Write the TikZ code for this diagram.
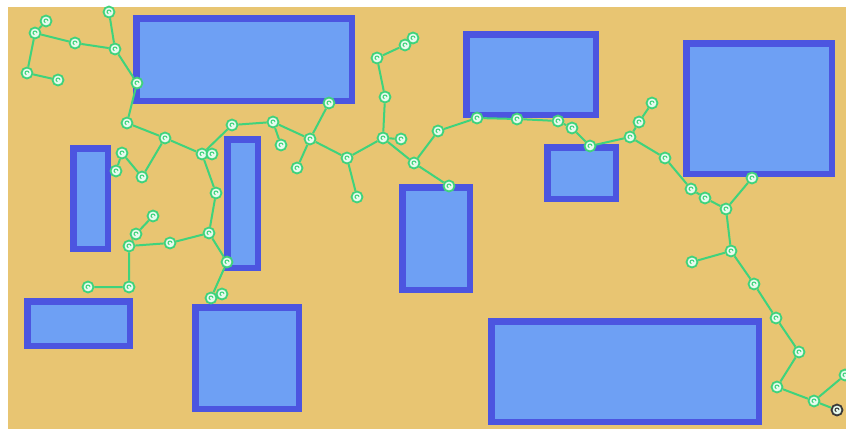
\documentclass[tikz,border=0pt]{standalone}
\usetikzlibrary{backgrounds}
\definecolor{tan}{HTML}{E8C572}
\definecolor{bordercol}{HTML}{4C55E0}
\definecolor{boxfill}{HTML}{6EA0F4}
\definecolor{lgreen}{HTML}{3FD37C}
\definecolor{nfill}{HTML}{E6FAEE}
\definecolor{endcol}{HTML}{3A3A3A}
\pgfdeclarelayer{back}
\pgfdeclarelayer{mid}
\pgfsetlayers{back,mid,main}
\tikzset{
  boxst/.style={draw=bordercol, line width=6.5pt, fill=boxfill},
  nd/.style={circle, draw=lgreen, line width=1.8pt, fill=nfill, minimum size=11pt, inner sep=0pt,
    path picture={\draw[lgreen, line width=1pt] ([shift={(2pt,0pt)}]path picture bounding box.center) arc[start angle=0, end angle=250, radius=2pt];}},
  endnd/.style={nd, draw=endcol, path picture={\draw[endcol, line width=1pt] ([shift={(2pt,0pt)}]path picture bounding box.center) arc[start angle=0, end angle=250, radius=2pt];}},
  edge/.style={draw=lgreen, line width=2pt}
}
\begin{document}
\begin{tikzpicture}[x=1pt,y=-1pt]
\useasboundingbox (0,0) rectangle (846,429);
\begin{pgfonlayer}{back}
\fill[white] (0,0) rectangle (846,429);
\fill[tan] (8,7) rectangle (846,429);
\draw[boxst] (136.25,18.25) rectangle (351.75,100.75);
\draw[boxst] (73.25,148.25) rectangle (107.75,248.75);
\draw[boxst] (227.25,139.25) rectangle (257.75,267.75);
\draw[boxst] (27.25,301.25) rectangle (129.75,345.75);
\draw[boxst] (195.25,307.25) rectangle (298.75,408.75);
\draw[boxst] (402.25,187.25) rectangle (469.75,289.75);
\draw[boxst] (466.25,34.25) rectangle (595.75,114.75);
\draw[boxst] (547.25,147.25) rectangle (615.75,198.75);
\draw[boxst] (686.25,43.25) rectangle (831.75,173.75);
\draw[boxst] (491.25,321.25) rectangle (758.75,421.75);
\end{pgfonlayer}

\node[nd] (n1) at (46,21) {};
\node[nd] (n2) at (35,33) {};
\node[nd] (n3) at (75,43) {};
\node[nd] (n4) at (115,49) {};
\node[nd] (n5) at (109,12) {};
\node[nd] (n6) at (27,73) {};
\node[nd] (n7) at (58,80) {};
\node[nd] (n8) at (137,83) {};
\node[nd] (n9) at (127,123) {};
\node[nd] (n10) at (165,138) {};
\node[nd] (n11) at (122,153) {};
\node[nd] (n12) at (116,171) {};
\node[nd] (n13) at (142,177) {};
\node[nd] (n14) at (202,154) {};
\node[nd] (n15) at (212,154) {};
\node[nd] (n16) at (216,193) {};
\node[nd] (n17) at (209,233) {};
\node[nd] (n18) at (227,262) {};
\node[nd] (n19) at (211,298) {};
\node[nd] (n20) at (222,294) {};
\node[nd] (n21) at (170,243) {};
\node[nd] (n22) at (129,246) {};
\node[nd] (n23) at (136,234) {};
\node[nd] (n24) at (153,216) {};
\node[nd] (n25) at (129,287) {};
\node[nd] (n26) at (88,287) {};
\node[nd] (n27) at (232,125) {};
\node[nd] (n28) at (273,122) {};
\node[nd] (n29) at (281,145) {};
\node[nd] (n30) at (310,139) {};
\node[nd] (n31) at (297,168) {};
\node[nd] (n32) at (329,103) {};
\node[nd] (n33) at (347,158) {};
\node[nd] (n34) at (357,197) {};
\node[nd] (n35) at (383,138) {};
\node[nd] (n36) at (385,97) {};
\node[nd] (n37) at (401,139) {};
\node[nd] (n38) at (414,163) {};
\node[nd] (n39) at (449,186) {};
\node[nd] (n40) at (438,131) {};
\node[nd] (n41) at (477,118) {};
\node[nd] (n42) at (517,119) {};
\node[nd] (n43) at (558,121) {};
\node[nd] (n44) at (572,128) {};
\node[nd] (n45) at (590,146) {};
\node[nd] (n46) at (630,137) {};
\node[nd] (n47) at (639,122) {};
\node[nd] (n48) at (652,103) {};
\node[nd] (n49) at (665,158) {};
\node[nd] (n50) at (691,189) {};
\node[nd] (n51) at (705,198) {};
\node[nd] (n52) at (726,209) {};
\node[nd] (n53) at (752,178) {};
\node[nd] (n54) at (731,251) {};
\node[nd] (n55) at (692,262) {};
\node[nd] (n56) at (754,284) {};
\node[nd] (n57) at (776,318) {};
\node[nd] (n58) at (799,352) {};
\node[nd] (n59) at (777,387) {};
\node[nd] (n60) at (814,401) {};
\node[endnd] (n61) at (837,410) {};
\node[nd] (n62) at (845,375) {};
\node[nd] (e1) at (413,38) {};
\node[nd] (e2) at (405,45) {};
\node[nd] (e3) at (377,58) {};

\begin{pgfonlayer}{mid}
\draw[edge] (n1)--(n2) (n2)--(n3) (n3)--(n4) (n5)--(n4) (n4)--(n8) (n8)--(n9) (n9)--(n10)
  (n2)--(n6) (n6)--(n7)
  (n10)--(n13) (n11)--(n13) (n11)--(n12) (n10)--(n14) (n14)--(n15) (n14)--(n27) (n14)--(n16)
  (n16)--(n17) (n17)--(n21) (n21)--(n22) (n22)--(n23) (n23)--(n24) (n22)--(n25) (n25)--(n26)
  (n17)--(n18) (n18)--(n19) (n19)--(n20)
  (n27)--(n28) (n28)--(n29) (n28)--(n30) (n30)--(n32) (n30)--(n31) (n30)--(n33) (n33)--(n34)
  (n33)--(n35) (n35)--(n36) (n35)--(n37) (n35)--(n38) (n38)--(n39) (n38)--(n40) (n40)--(n41)
  (n36)--(e3) (e3)--(e2) (e2)--(e1)
  (n41)--(n42) (n42)--(n43) (n43)--(n44) (n44)--(n45) (n45)--(n46) (n46)--(n47) (n47)--(n48)
  (n46)--(n49) (n49)--(n50) (n50)--(n51) (n51)--(n52) (n52)--(n53) (n52)--(n54) (n54)--(n55)
  (n54)--(n56) (n56)--(n57) (n57)--(n58) (n58)--(n59) (n59)--(n60) (n60)--(n61) (n60)--(n62);
\end{pgfonlayer}
\end{tikzpicture}
\end{document}
